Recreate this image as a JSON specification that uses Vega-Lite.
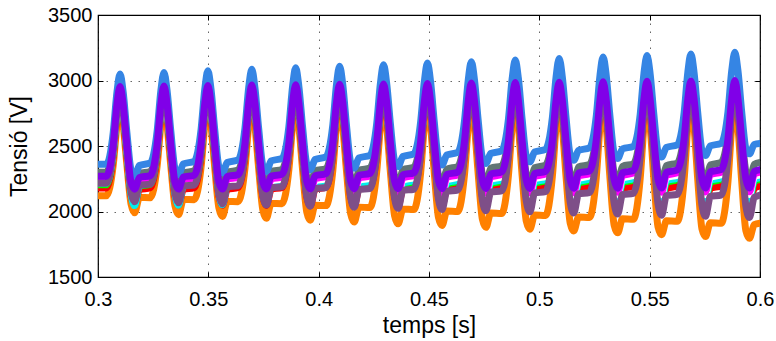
{
"$schema": "https://vega.github.io/schema/vega-lite/v6.json",
"width": 662, "height": 262,
"autosize": {"type": "none"},
"padding": {"left": 98, "top": 15, "right": 16, "bottom": 64},
"background": "white",
"config": {"view": {"stroke": "black", "strokeWidth": 1.2}, "font": "Liberation Sans",
  "axis": {"labelFont": "Liberation Sans", "titleFont": "Liberation Sans", "labelColor": "black", "titleColor": "black", "labelFontSize": 20, "titleFontSize": 23, "titleFontWeight": "normal", "domain": false, "tickColor": "black", "tickSize": -5, "gridColor": "#000", "gridOpacity": 0.6, "gridDash": [1.5, 6.5], "gridWidth": 1}},
"resolve": {"axis": {"x": "independent", "y": "independent"}},
"layer": [
{
"data": {"values": [
{"t":0.3,"a":2120,"b":2180,"c":2205,"d":2215,"e":2235,"f":2250,"g":2215,"h":2300,"i":2360,"j":2270},
{"t":0.3038,"a":2120,"b":2180,"c":2205,"d":2215,"e":2235,"f":2250,"g":2215,"h":2300,"i":2360,"j":2270},
{"t":0.3069,"a":2355,"b":2425,"c":2448,"d":2458,"e":2475,"f":2488,"g":2455,"h":2524,"i":2602,"j":2510},
{"t":0.3086,"a":2656,"b":2740,"c":2761,"d":2771,"e":2783,"f":2794,"g":2763,"h":2812,"i":2912,"j":2818},
{"t":0.3100,"a":2790,"b":2880,"c":2900,"d":2910,"e":2920,"f":2930,"g":2900,"h":2940,"i":3050,"j":2955},
{"t":0.3114,"a":2656,"b":2740,"c":2761,"d":2771,"e":2783,"f":2794,"g":2763,"h":2812,"i":2912,"j":2818},
{"t":0.3131,"a":2355,"b":2425,"c":2448,"d":2458,"e":2475,"f":2488,"g":2455,"h":2524,"i":2602,"j":2510},
{"t":0.3150,"a":2055,"b":2115,"c":2140,"d":2130,"e":2175,"f":2190,"g":2145,"h":2245,"i":2315,"j":2220},
{"t":0.3166,"a":1990,"b":2050,"c":2075,"d":2045,"e":2115,"f":2130,"g":2075,"h":2190,"i":2270,"j":2170},
{"t":0.3188,"a":2107,"b":2167,"c":2192,"d":2198,"e":2223,"f":2238,"g":2201,"h":2289,"i":2351,"j":2260},
{"t":0.3237,"a":2105,"b":2181,"c":2208,"d":2218,"e":2238,"f":2254,"g":2209,"h":2305,"i":2371,"j":2274},
{"t":0.3268,"a":2346,"b":2427,"c":2451,"d":2461,"e":2478,"f":2491,"g":2452,"h":2529,"i":2613,"j":2513},
{"t":0.3285,"a":2655,"b":2743,"c":2764,"d":2774,"e":2786,"f":2797,"g":2764,"h":2816,"i":2924,"j":2821},
{"t":0.3299,"a":2793,"b":2883,"c":2903,"d":2913,"e":2923,"f":2933,"g":2903,"h":2943,"i":3062,"j":2958},
{"t":0.3313,"a":2655,"b":2743,"c":2764,"d":2774,"e":2786,"f":2797,"g":2764,"h":2816,"i":2924,"j":2821},
{"t":0.3330,"a":2346,"b":2427,"c":2451,"d":2461,"e":2478,"f":2491,"g":2452,"h":2529,"i":2613,"j":2513},
{"t":0.3349,"a":2041,"b":2115,"c":2142,"d":2133,"e":2177,"f":2193,"g":2138,"h":2249,"i":2327,"j":2222},
{"t":0.3365,"a":1976,"b":2049,"c":2076,"d":2048,"e":2116,"f":2131,"g":2066,"h":2193,"i":2282,"j":2171},
{"t":0.3387,"a":2092,"b":2168,"c":2195,"d":2201,"e":2226,"f":2241,"g":2194,"h":2294,"i":2363,"j":2263},
{"t":0.3436,"a":2090,"b":2182,"c":2211,"d":2221,"e":2241,"f":2257,"g":2202,"h":2311,"i":2383,"j":2277},
{"t":0.3467,"a":2337,"b":2429,"c":2454,"d":2464,"e":2481,"f":2495,"g":2448,"h":2533,"i":2625,"j":2517},
{"t":0.3484,"a":2655,"b":2746,"c":2767,"d":2777,"e":2789,"f":2801,"g":2764,"h":2819,"i":2935,"j":2825},
{"t":0.3498,"a":2796,"b":2886,"c":2906,"d":2916,"e":2926,"f":2936,"g":2905,"h":2946,"i":3074,"j":2961},
{"t":0.3512,"a":2655,"b":2746,"c":2767,"d":2777,"e":2789,"f":2801,"g":2764,"h":2819,"i":2935,"j":2825},
{"t":0.3529,"a":2337,"b":2429,"c":2454,"d":2464,"e":2481,"f":2495,"g":2448,"h":2533,"i":2625,"j":2517},
{"t":0.3548,"a":2026,"b":2115,"c":2144,"d":2137,"e":2179,"f":2195,"g":2130,"h":2253,"i":2339,"j":2224},
{"t":0.3564,"a":1962,"b":2047,"c":2076,"d":2052,"e":2117,"f":2133,"g":2058,"h":2195,"i":2294,"j":2171},
{"t":0.3586,"a":2077,"b":2169,"c":2197,"d":2204,"e":2229,"f":2245,"g":2188,"h":2299,"i":2374,"j":2267},
{"t":0.3635,"a":2075,"b":2183,"c":2214,"d":2224,"e":2245,"f":2261,"g":2196,"h":2316,"i":2394,"j":2281},
{"t":0.3666,"a":2329,"b":2430,"c":2457,"d":2467,"e":2485,"f":2498,"g":2445,"h":2538,"i":2636,"j":2520},
{"t":0.3683,"a":2654,"b":2748,"c":2770,"d":2781,"e":2793,"f":2804,"g":2765,"h":2823,"i":2947,"j":2828},
{"t":0.3697,"a":2799,"b":2890,"c":2910,"d":2920,"e":2930,"f":2940,"g":2908,"h":2950,"i":3085,"j":2965},
{"t":0.3711,"a":2654,"b":2748,"c":2770,"d":2781,"e":2793,"f":2804,"g":2765,"h":2823,"i":2947,"j":2828},
{"t":0.3728,"a":2329,"b":2430,"c":2457,"d":2467,"e":2485,"f":2498,"g":2445,"h":2538,"i":2636,"j":2520},
{"t":0.3747,"a":2012,"b":2114,"c":2145,"d":2140,"e":2181,"f":2198,"g":2123,"h":2257,"i":2350,"j":2226},
{"t":0.3763,"a":1948,"b":2046,"c":2077,"d":2055,"e":2118,"f":2134,"g":2049,"h":2198,"i":2306,"j":2172},
{"t":0.3785,"a":2062,"b":2169,"c":2200,"d":2207,"e":2232,"f":2248,"g":2181,"h":2304,"i":2386,"j":2270},
{"t":0.3834,"a":2060,"b":2184,"c":2216,"d":2227,"e":2248,"f":2264,"g":2189,"h":2321,"i":2406,"j":2284},
{"t":0.3865,"a":2320,"b":2432,"c":2460,"d":2471,"e":2488,"f":2502,"g":2442,"h":2543,"i":2648,"j":2524},
{"t":0.3882,"a":2653,"b":2751,"c":2774,"d":2784,"e":2796,"f":2807,"g":2766,"h":2827,"i":2959,"j":2831},
{"t":0.3896,"a":2801,"b":2893,"c":2913,"d":2923,"e":2933,"f":2943,"g":2910,"h":2953,"i":3097,"j":2968},
{"t":0.3910,"a":2653,"b":2751,"c":2774,"d":2784,"e":2796,"f":2807,"g":2766,"h":2827,"i":2959,"j":2831},
{"t":0.3927,"a":2320,"b":2432,"c":2460,"d":2471,"e":2488,"f":2502,"g":2442,"h":2543,"i":2648,"j":2524},
{"t":0.3946,"a":1997,"b":2114,"c":2147,"d":2143,"e":2184,"f":2200,"g":2115,"h":2261,"i":2362,"j":2229},
{"t":0.3962,"a":1934,"b":2044,"c":2078,"d":2059,"e":2119,"f":2136,"g":2041,"h":2200,"i":2319,"j":2173},
{"t":0.3984,"a":2048,"b":2170,"c":2203,"d":2211,"e":2235,"f":2251,"g":2174,"h":2309,"i":2397,"j":2273},
{"t":0.4033,"a":2045,"b":2185,"c":2219,"d":2230,"e":2251,"f":2268,"g":2183,"h":2327,"i":2417,"j":2288},
{"t":0.4064,"a":2311,"b":2434,"c":2463,"d":2474,"e":2491,"f":2505,"g":2439,"h":2547,"i":2659,"j":2527},
{"t":0.4081,"a":2652,"b":2754,"c":2777,"d":2787,"e":2799,"f":2810,"g":2767,"h":2830,"i":2971,"j":2834},
{"t":0.4095,"a":2804,"b":2896,"c":2916,"d":2926,"e":2936,"f":2946,"g":2913,"h":2956,"i":3109,"j":2971},
{"t":0.4109,"a":2652,"b":2754,"c":2777,"d":2787,"e":2799,"f":2810,"g":2767,"h":2830,"i":2971,"j":2834},
{"t":0.4126,"a":2311,"b":2434,"c":2463,"d":2474,"e":2491,"f":2505,"g":2439,"h":2547,"i":2659,"j":2527},
{"t":0.4145,"a":1983,"b":2114,"c":2149,"d":2146,"e":2186,"f":2203,"g":2108,"h":2265,"i":2374,"j":2231},
{"t":0.4161,"a":1920,"b":2043,"c":2079,"d":2062,"e":2120,"f":2137,"g":2032,"h":2203,"i":2331,"j":2174},
{"t":0.4183,"a":2033,"b":2171,"c":2205,"d":2214,"e":2238,"f":2255,"g":2168,"h":2314,"i":2409,"j":2276},
{"t":0.4232,"a":2030,"b":2186,"c":2222,"d":2233,"e":2254,"f":2271,"g":2176,"h":2332,"i":2429,"j":2291},
{"t":0.4263,"a":2302,"b":2436,"c":2466,"d":2477,"e":2494,"f":2509,"g":2435,"h":2552,"i":2671,"j":2531},
{"t":0.4280,"a":2652,"b":2757,"c":2780,"d":2790,"e":2802,"f":2814,"g":2767,"h":2834,"i":2982,"j":2838},
{"t":0.4294,"a":2807,"b":2899,"c":2919,"d":2929,"e":2939,"f":2949,"g":2915,"h":2959,"i":3121,"j":2974},
{"t":0.4308,"a":2652,"b":2757,"c":2780,"d":2790,"e":2802,"f":2814,"g":2767,"h":2834,"i":2982,"j":2838},
{"t":0.4325,"a":2302,"b":2436,"c":2466,"d":2477,"e":2494,"f":2509,"g":2435,"h":2552,"i":2671,"j":2531},
{"t":0.4344,"a":1968,"b":2114,"c":2151,"d":2150,"e":2188,"f":2205,"g":2100,"h":2269,"i":2386,"j":2233},
{"t":0.4360,"a":1906,"b":2041,"c":2079,"d":2066,"e":2121,"f":2139,"g":2024,"h":2205,"i":2343,"j":2174},
{"t":0.4382,"a":2018,"b":2172,"c":2208,"d":2217,"e":2241,"f":2258,"g":2161,"h":2319,"i":2420,"j":2280},
{"t":0.4431,"a":2015,"b":2188,"c":2225,"d":2237,"e":2258,"f":2275,"g":2170,"h":2338,"i":2440,"j":2295},
{"t":0.4462,"a":2293,"b":2438,"c":2469,"d":2480,"e":2498,"f":2512,"g":2432,"h":2557,"i":2682,"j":2534},
{"t":0.4479,"a":2651,"b":2760,"c":2783,"d":2794,"e":2806,"f":2817,"g":2768,"h":2838,"i":2994,"j":2841},
{"t":0.4493,"a":2810,"b":2903,"c":2923,"d":2933,"e":2943,"f":2953,"g":2918,"h":2963,"i":3133,"j":2978},
{"t":0.4507,"a":2651,"b":2760,"c":2783,"d":2794,"e":2806,"f":2817,"g":2768,"h":2838,"i":2994,"j":2841},
{"t":0.4524,"a":2293,"b":2438,"c":2469,"d":2480,"e":2498,"f":2512,"g":2432,"h":2557,"i":2682,"j":2534},
{"t":0.4543,"a":1954,"b":2113,"c":2153,"d":2153,"e":2190,"f":2208,"g":2093,"h":2273,"i":2398,"j":2235},
{"t":0.4559,"a":1893,"b":2040,"c":2080,"d":2069,"e":2123,"f":2140,"g":2015,"h":2208,"i":2355,"j":2175},
{"t":0.4581,"a":2003,"b":2173,"c":2211,"d":2220,"e":2244,"f":2262,"g":2154,"h":2324,"i":2432,"j":2283},
{"t":0.4630,"a":2000,"b":2189,"c":2228,"d":2240,"e":2261,"f":2279,"g":2164,"h":2343,"i":2451,"j":2299},
{"t":0.4661,"a":2285,"b":2439,"c":2472,"d":2483,"e":2501,"f":2515,"g":2429,"h":2561,"i":2694,"j":2537},
{"t":0.4678,"a":2650,"b":2762,"c":2786,"d":2797,"e":2809,"f":2820,"g":2769,"h":2841,"i":3006,"j":2844},
{"t":0.4692,"a":2813,"b":2906,"c":2926,"d":2936,"e":2946,"f":2956,"g":2920,"h":2966,"i":3144,"j":2981},
{"t":0.4706,"a":2650,"b":2762,"c":2786,"d":2797,"e":2809,"f":2820,"g":2769,"h":2841,"i":3006,"j":2844},
{"t":0.4723,"a":2285,"b":2439,"c":2472,"d":2483,"e":2501,"f":2515,"g":2429,"h":2561,"i":2694,"j":2537},
{"t":0.4742,"a":1940,"b":2113,"c":2154,"d":2156,"e":2192,"f":2210,"g":2085,"h":2276,"i":2409,"j":2237},
{"t":0.4758,"a":1879,"b":2039,"c":2081,"d":2072,"e":2124,"f":2141,"g":2006,"h":2210,"i":2367,"j":2176},
{"t":0.4780,"a":1988,"b":2173,"c":2213,"d":2223,"e":2247,"f":2265,"g":2148,"h":2330,"i":2443,"j":2286},
{"t":0.4829,"a":1985,"b":2190,"c":2231,"d":2243,"e":2264,"f":2282,"g":2157,"h":2348,"i":2463,"j":2302},
{"t":0.4860,"a":2276,"b":2441,"c":2475,"d":2486,"e":2504,"f":2519,"g":2425,"h":2566,"i":2705,"j":2541},
{"t":0.4877,"a":2650,"b":2765,"c":2789,"d":2800,"e":2812,"f":2824,"g":2769,"h":2845,"i":3017,"j":2848},
{"t":0.4891,"a":2816,"b":2909,"c":2929,"d":2939,"e":2949,"f":2959,"g":2923,"h":2969,"i":3156,"j":2984},
{"t":0.4905,"a":2650,"b":2765,"c":2789,"d":2800,"e":2812,"f":2824,"g":2769,"h":2845,"i":3017,"j":2848},
{"t":0.4922,"a":2276,"b":2441,"c":2475,"d":2486,"e":2504,"f":2519,"g":2425,"h":2566,"i":2705,"j":2541},
{"t":0.4941,"a":1925,"b":2113,"c":2156,"d":2160,"e":2194,"f":2213,"g":2078,"h":2280,"i":2421,"j":2239},
{"t":0.4957,"a":1865,"b":2037,"c":2081,"d":2076,"e":2125,"f":2143,"g":1998,"h":2213,"i":2379,"j":2176},
{"t":0.4979,"a":1973,"b":2174,"c":2216,"d":2226,"e":2250,"f":2268,"g":2141,"h":2335,"i":2455,"j":2290},
{"t":0.5028,"a":1970,"b":2191,"c":2234,"d":2246,"e":2267,"f":2286,"g":2151,"h":2354,"i":2474,"j":2306},
{"t":0.5059,"a":2267,"b":2443,"c":2478,"d":2489,"e":2507,"f":2522,"g":2422,"h":2570,"i":2717,"j":2544},
{"t":0.5076,"a":2649,"b":2768,"c":2792,"d":2803,"e":2815,"f":2827,"g":2770,"h":2848,"i":3029,"j":2851},
{"t":0.5090,"a":2819,"b":2912,"c":2932,"d":2942,"e":2952,"f":2962,"g":2925,"h":2972,"i":3168,"j":2987},
{"t":0.5104,"a":2649,"b":2768,"c":2792,"d":2803,"e":2815,"f":2827,"g":2770,"h":2848,"i":3029,"j":2851},
{"t":0.5121,"a":2267,"b":2443,"c":2478,"d":2489,"e":2507,"f":2522,"g":2422,"h":2570,"i":2717,"j":2544},
{"t":0.5140,"a":1911,"b":2113,"c":2158,"d":2163,"e":2196,"f":2215,"g":2070,"h":2284,"i":2433,"j":2241},
{"t":0.5156,"a":1851,"b":2036,"c":2082,"d":2079,"e":2126,"f":2144,"g":1989,"h":2215,"i":2391,"j":2177},
{"t":0.5178,"a":1958,"b":2175,"c":2218,"d":2229,"e":2253,"f":2272,"g":2135,"h":2340,"i":2466,"j":2293},
{"t":0.5227,"a":1955,"b":2192,"c":2236,"d":2249,"e":2270,"f":2289,"g":2144,"h":2359,"i":2486,"j":2309},
{"t":0.5258,"a":2258,"b":2445,"c":2481,"d":2493,"e":2510,"f":2526,"g":2419,"h":2575,"i":2728,"j":2548},
{"t":0.5275,"a":2648,"b":2771,"c":2796,"d":2806,"e":2818,"f":2830,"g":2771,"h":2852,"i":3041,"j":2854},
{"t":0.5289,"a":2821,"b":2915,"c":2935,"d":2945,"e":2955,"f":2965,"g":2928,"h":2975,"i":3180,"j":2990},
{"t":0.5303,"a":2648,"b":2771,"c":2796,"d":2806,"e":2818,"f":2830,"g":2771,"h":2852,"i":3041,"j":2854},
{"t":0.5320,"a":2258,"b":2445,"c":2481,"d":2493,"e":2510,"f":2526,"g":2419,"h":2575,"i":2728,"j":2548},
{"t":0.5339,"a":1896,"b":2113,"c":2160,"d":2166,"e":2199,"f":2218,"g":2063,"h":2288,"i":2445,"j":2244},
{"t":0.5355,"a":1837,"b":2034,"c":2083,"d":2083,"e":2127,"f":2146,"g":1981,"h":2218,"i":2404,"j":2178},
{"t":0.5377,"a":1944,"b":2176,"c":2221,"d":2233,"e":2256,"f":2275,"g":2128,"h":2345,"i":2478,"j":2296},
{"t":0.5426,"a":1940,"b":2193,"c":2239,"d":2252,"e":2274,"f":2293,"g":2138,"h":2364,"i":2497,"j":2313},
{"t":0.5457,"a":2250,"b":2446,"c":2484,"d":2496,"e":2514,"f":2529,"g":2416,"h":2580,"i":2740,"j":2551},
{"t":0.5474,"a":2647,"b":2773,"c":2799,"d":2810,"e":2822,"f":2833,"g":2772,"h":2856,"i":3053,"j":2857},
{"t":0.5488,"a":2824,"b":2919,"c":2939,"d":2949,"e":2959,"f":2969,"g":2930,"h":2979,"i":3191,"j":2994},
{"t":0.5502,"a":2647,"b":2773,"c":2799,"d":2810,"e":2822,"f":2833,"g":2772,"h":2856,"i":3053,"j":2857},
{"t":0.5519,"a":2250,"b":2446,"c":2484,"d":2496,"e":2514,"f":2529,"g":2416,"h":2580,"i":2740,"j":2551},
{"t":0.5538,"a":1882,"b":2112,"c":2161,"d":2169,"e":2201,"f":2220,"g":2055,"h":2292,"i":2456,"j":2246},
{"t":0.5554,"a":1823,"b":2033,"c":2084,"d":2086,"e":2128,"f":2147,"g":1972,"h":2220,"i":2416,"j":2179},
{"t":0.5576,"a":1929,"b":2176,"c":2224,"d":2236,"e":2259,"f":2278,"g":2121,"h":2350,"i":2489,"j":2299},
{"t":0.5625,"a":1925,"b":2194,"c":2242,"d":2255,"e":2277,"f":2296,"g":2131,"h":2370,"i":2509,"j":2316},
{"t":0.5656,"a":2241,"b":2448,"c":2487,"d":2499,"e":2517,"f":2533,"g":2412,"h":2584,"i":2751,"j":2555},
{"t":0.5673,"a":2647,"b":2776,"c":2802,"d":2813,"e":2825,"f":2837,"g":2772,"h":2859,"i":3064,"j":2861},
{"t":0.5687,"a":2827,"b":2922,"c":2942,"d":2952,"e":2962,"f":2972,"g":2933,"h":2982,"i":3203,"j":2997},
{"t":0.5701,"a":2647,"b":2776,"c":2802,"d":2813,"e":2825,"f":2837,"g":2772,"h":2859,"i":3064,"j":2861},
{"t":0.5718,"a":2241,"b":2448,"c":2487,"d":2499,"e":2517,"f":2533,"g":2412,"h":2584,"i":2751,"j":2555},
{"t":0.5737,"a":1867,"b":2112,"c":2163,"d":2173,"e":2203,"f":2223,"g":2048,"h":2296,"i":2468,"j":2248},
{"t":0.5753,"a":1809,"b":2031,"c":2084,"d":2090,"e":2129,"f":2149,"g":1964,"h":2223,"i":2428,"j":2179},
{"t":0.5775,"a":1914,"b":2177,"c":2226,"d":2239,"e":2262,"f":2282,"g":2115,"h":2355,"i":2501,"j":2303},
{"t":0.5824,"a":1910,"b":2195,"c":2245,"d":2258,"e":2280,"f":2300,"g":2125,"h":2375,"i":2520,"j":2320},
{"t":0.5855,"a":2232,"b":2450,"c":2490,"d":2502,"e":2520,"f":2536,"g":2409,"h":2589,"i":2763,"j":2558},
{"t":0.5872,"a":2646,"b":2779,"c":2805,"d":2816,"e":2828,"f":2840,"g":2773,"h":2863,"i":3076,"j":2864},
{"t":0.5886,"a":2830,"b":2925,"c":2945,"d":2955,"e":2965,"f":2975,"g":2935,"h":2985,"i":3215,"j":3000},
{"t":0.5900,"a":2646,"b":2779,"c":2805,"d":2816,"e":2828,"f":2840,"g":2773,"h":2863,"i":3076,"j":2864},
{"t":0.5917,"a":2232,"b":2450,"c":2490,"d":2502,"e":2520,"f":2536,"g":2409,"h":2589,"i":2763,"j":2558},
{"t":0.5936,"a":1853,"b":2112,"c":2165,"d":2176,"e":2205,"f":2225,"g":2040,"h":2300,"i":2480,"j":2250},
{"t":0.5952,"a":1795,"b":2030,"c":2085,"d":2093,"e":2130,"f":2150,"g":1955,"h":2225,"i":2440,"j":2180},
{"t":0.5974,"a":1899,"b":2178,"c":2229,"d":2242,"e":2265,"f":2285,"g":2108,"h":2360,"i":2512,"j":2306},
{"t":0.6,"a":1910,"b":2195,"c":2245,"d":2258,"e":2280,"f":2300,"g":2125,"h":2375,"i":2520,"j":2320}
]},
"transform": [{"fold": ["a","b","c","d","e","f","g","h","i","j"], "as": ["s","v"]}],
"mark": {"type": "line", "strokeWidth": 7, "clip": true, "interpolate": "monotone", "strokeCap": "round", "strokeJoin": "round"},
"encoding": {
  "x": {"field": "t", "type": "quantitative", "scale": {"domain": [0.3, 0.6], "nice": false, "zero": false},
        "axis": {"orient": "bottom", "values": [0.3,0.35,0.4,0.45,0.5,0.55,0.6], "format": "~g", "title": "temps [s]", "labelPadding": 17, "titlePadding": 5, "grid": true, "labelFlush": false}},
  "y": {"field": "v", "type": "quantitative", "scale": {"domain": [1500, 3500], "nice": false, "zero": false},
        "axis": {"orient": "left", "values": [1500,2000,2500,3000,3500], "format": "d", "title": "Tensió [V]", "labelPadding": 11, "titlePadding": 16, "grid": true}},
  "color": {"field": "s", "type": "nominal", "legend": null,
            "scale": {"domain": ["a","b","c","d","e","f","g","h","i","j"], "range": ["#ff8000","#ff0000","#00ff00","#00eeee","#ffffff","#ff00ff","#7e4f88","#617575","#3585e4","#8000e8"]}}
}
},
{
"data": {"values": [{"t": 0.3, "v": 1500}]},
"mark": {"type": "point", "opacity": 0},
"encoding": {
  "x": {"field": "t", "type": "quantitative", "scale": {"domain": [0.3, 0.6], "nice": false, "zero": false},
        "axis": {"orient": "top", "values": [0.3,0.35,0.4,0.45,0.5,0.55,0.6], "labels": false, "title": null, "grid": false}},
  "y": {"field": "v", "type": "quantitative", "scale": {"domain": [1500, 3500], "nice": false, "zero": false},
        "axis": {"orient": "right", "values": [1500,2000,2500,3000,3500], "labels": false, "title": null, "grid": false}}
}
}
]
}
